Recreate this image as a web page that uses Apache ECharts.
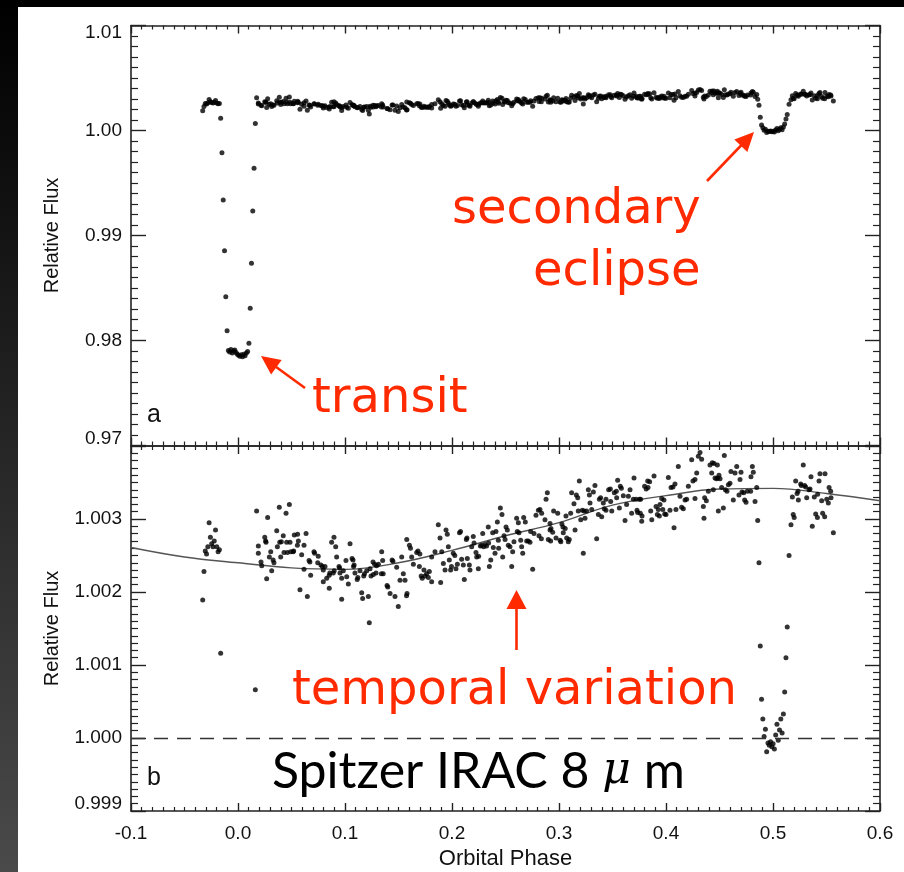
<!DOCTYPE html>
<html><head><meta charset="utf-8">
<script src="https://cdn.jsdelivr.net/npm/echarts@6/dist/echarts.min.js"></script>
<style>html,body{margin:0;padding:0;background:#fff}#c{width:904px;height:872px}</style>
</head><body><div id="c"></div>
<script>
// ---- data: orbital phase, relative flux ----
const preTransit = [[-0.0330,1.00189],[-0.0318,1.00228],[-0.0306,1.00256],[-0.0294,1.00252],[-0.0282,1.00262],[-0.0270,1.00295],[-0.0258,1.00275],[-0.0246,1.00266],[-0.0234,1.00262],[-0.0222,1.00270],[-0.0210,1.00285],[-0.0198,1.00262],[-0.0186,1.00255],[-0.0174,1.00258]];
const transit = [[-0.0162,1.00116],[-0.0150,0.99789],[-0.0138,0.99338],[-0.0126,0.98855],[-0.0114,0.98417],[-0.0102,0.98093],
[-0.0090,0.97905],[-0.0078,0.97890],[-0.0066,0.97915],[-0.0054,0.97880],[-0.0042,0.97900],[-0.0030,0.97910],[-0.0018,0.97885],[-0.0006,0.97870],[0.0006,0.97860],[0.0018,0.97850],[0.0030,0.97865],[0.0042,0.97845],[0.0054,0.97870],[0.0066,0.97855],[0.0078,0.97880],[0.0090,0.97895],
[0.0102,0.97973],[0.0114,0.98307],[0.0126,0.98735],[0.0138,0.99233],[0.0150,0.99640],[0.0162,1.00066]];
const baseline = [[0.0174,1.00311],[0.0190,1.00263],[0.0190,1.00253],[0.0215,1.00241],[0.0222,1.00236],[0.0250,1.00275],[0.0258,1.00270],[0.0262,1.00268],[0.0268,1.00218],[0.0277,1.00302],[0.0293,1.00248],[0.0306,1.00255],[0.0315,1.00229],[0.0328,1.00244],[0.0336,1.00240],[0.0362,1.00284],[0.0368,1.00262],[0.0386,1.00316],[0.0390,1.00268],[0.0399,1.00248],[0.0405,1.00269],[0.0423,1.00277],[0.0430,1.00254],[0.0449,1.00308],[0.0455,1.00268],[0.0461,1.00254],[0.0480,1.00320],[0.0486,1.00268],[0.0492,1.00255],[0.0515,1.00255],[0.0520,1.00256],[0.0526,1.00278],[0.0555,1.00264],[0.0557,1.00279],[0.0564,1.00270],[0.0579,1.00203],[0.0595,1.00251],[0.0617,1.00264],[0.0617,1.00231],[0.0636,1.00280],[0.0648,1.00194],[0.0664,1.00243],[0.0672,1.00241],[0.0679,1.00223],[0.0710,1.00255],[0.0716,1.00253],[0.0745,1.00240],[0.0750,1.00249],[0.0775,1.00237],[0.0788,1.00235],[0.0797,1.00230],[0.0797,1.00214],[0.0813,1.00235],[0.0829,1.00219],[0.0853,1.00205],[0.0853,1.00223],[0.0858,1.00226],[0.0875,1.00268],[0.0890,1.00226],[0.0897,1.00275],[0.0899,1.00229],[0.0913,1.00262],[0.0922,1.00248],[0.0944,1.00235],[0.0950,1.00233],[0.0953,1.00226],[0.0969,1.00219],[0.0969,1.00190],[0.0984,1.00229],[0.1009,1.00243],[0.1016,1.00221],[0.1031,1.00211],[0.1047,1.00266],[0.1066,1.00246],[0.1075,1.00244],[0.1080,1.00235],[0.1085,1.00237],[0.1093,1.00226],[0.1114,1.00217],[0.1120,1.00220],[0.1140,1.00229],[0.1156,1.00199],[0.1165,1.00191],[0.1175,1.00222],[0.1182,1.00225],[0.1203,1.00229],[0.1218,1.00194],[0.1227,1.00158],
[0.1234,1.00232],[0.1243,1.00222],[0.1262,1.00241],[0.1265,1.00224],[0.1277,1.00238],[0.1290,1.00226],[0.1295,1.00236],[0.1312,1.00238],[0.1343,1.00255],[0.1340,1.00225],[0.1352,1.00243],[0.1357,1.00225],[0.1393,1.00209],[0.1400,1.00207],[0.1421,1.00198],[0.1440,1.00244],[0.1448,1.00242],[0.1467,1.00194],[0.1483,1.00234],[0.1498,1.00180],[0.1514,1.00216],[0.1530,1.00248],[0.1545,1.00225],[0.1561,1.00216],[0.1575,1.00195],[0.1580,1.00198],[0.1577,1.00272],[0.1602,1.00264],[0.1612,1.00260],[0.1623,1.00248],[0.1639,1.00238],[0.1670,1.00254],[0.1682,1.00256],[0.1695,1.00235],[0.1700,1.00252],[0.1712,1.00222],[0.1722,1.00219],[0.1738,1.00230],[0.1748,1.00222],[0.1763,1.00225],[0.1779,1.00220],[0.1788,1.00228],[0.1810,1.00214],[0.1810,1.00248],[0.1841,1.00255],[0.1872,1.00292],[0.1888,1.00274],[0.1894,1.00213],[0.1904,1.00255],[0.1919,1.00239],[0.1935,1.00230],[0.1944,1.00285],[0.1956,1.00279],[0.1966,1.00262],[0.1975,1.00244],[0.1987,1.00230],[0.1995,1.00235],[0.2012,1.00253],[0.2026,1.00250],[0.2037,1.00232],[0.2050,1.00238],[0.2070,1.00281],[0.2080,1.00283],[0.2090,1.00245],[0.2106,1.00237],[0.2115,1.00217],[0.2134,1.00272],[0.2140,1.00274],[0.2143,1.00246],[0.2162,1.00237],[0.2168,1.00230],[0.2184,1.00262],[0.2199,1.00276],[0.2206,1.00267],[0.2224,1.00254],[0.2231,1.00248],[0.2246,1.00232],[0.2249,1.00249],[0.2265,1.00263],[0.2277,1.00264],[0.2287,1.00280],[0.2296,1.00262],[0.2308,1.00265],[0.2323,1.00263],[0.2339,1.00289],[0.2342,1.00267],[0.2349,1.00235],[0.2362,1.00244],[0.2380,1.00281],[0.2386,1.00261],[0.2402,1.00253],[0.2411,1.00283],[0.2424,1.00296],[0.2433,1.00271],[0.2436,1.00260],[0.2452,1.00315],[0.2467,1.00306],[0.2474,1.00248],[0.2486,1.00277],[0.2496,1.00272],[0.2505,1.00289],[0.2517,1.00285],[0.2526,1.00264],[0.2542,1.00262],[0.2558,1.00235],[0.2567,1.00255],[0.2579,1.00269],[0.2604,1.00301],[0.2620,1.00295],[0.2610,1.00283],[0.2626,1.00281],[0.2642,1.00271],[0.2651,1.00262],[0.2661,1.00253],[0.2670,1.00302],[0.2685,1.00296],[0.2698,1.00270],[0.2713,1.00270],[0.2729,1.00268],[0.2735,1.00283],[0.2754,1.00231],[0.2766,1.00280],[0.2785,1.00305],[0.2807,1.00312],[0.2822,1.00313],[0.2838,1.00308],[0.2813,1.00277],[0.2835,1.00273],[0.2869,1.00299],[0.2879,1.00327],[0.2891,1.00336],[0.2900,1.00272],[0.2916,1.00294],
[0.2916,1.00285],[0.2925,1.00287],[0.2941,1.00282],[0.2922,1.00270],[0.2950,1.00311],[0.2988,1.00308],[0.2972,1.00274],[0.3010,1.00271],[0.3017,1.00269],[0.3027,1.00293],[0.3037,1.00289],[0.3058,1.00287],[0.3040,1.00281],[0.3072,1.00274],[0.3065,1.00304],[0.3087,1.00269],[0.3096,1.00272],[0.3109,1.00308],[0.3118,1.00336],[0.3140,1.00321],[0.3150,1.00285],[0.3162,1.00333],[0.3175,1.00329],[0.3190,1.00352],[0.3180,1.00311],[0.3203,1.00299],[0.3218,1.00312],[0.3234,1.00311],[0.3258,1.00311],[0.3227,1.00253],[0.3243,1.00301],[0.3274,1.00340],[0.3284,1.00333],[0.3290,1.00322],[0.3306,1.00313],[0.3321,1.00337],[0.3336,1.00346],[0.3352,1.00273],[0.3377,1.00327],[0.3389,1.00329],[0.3368,1.00306],[0.3399,1.00303],[0.3414,1.00322],[0.3439,1.00327],[0.3423,1.00314],[0.3439,1.00312],[0.3464,1.00340],[0.3480,1.00341],[0.3483,1.00324],[0.3493,1.00311],[0.3517,1.00336],[0.3536,1.00338],[0.3539,1.00329],[0.3548,1.00353],[0.3564,1.00315],[0.3573,1.00345],[0.3583,1.00342],[0.3601,1.00332],[0.3617,1.00298],[0.3632,1.00320],[0.3648,1.00331],[0.3664,1.00340],[0.3679,1.00308],[0.3701,1.00356],[0.3695,1.00327],[0.3720,1.00327],[0.3729,1.00312],[0.3735,1.00309],[0.3751,1.00327],[0.3763,1.00327],[0.3760,1.00308],[0.3776,1.00304],[0.3773,1.00297],[0.3800,1.00345],[0.3829,1.00352],[0.3847,1.00351],[0.3815,1.00341],[0.3832,1.00343],[0.3857,1.00311],[0.3867,1.00299],[0.3888,1.00359],[0.3907,1.00317],[0.3919,1.00306],[0.3938,1.00304],[0.3928,1.00313],[0.3944,1.00320],[0.3960,1.00328],[0.3981,1.00326],[0.3970,1.00313],[0.3988,1.00307],[0.4000,1.00306],[0.4022,1.00357],[0.4037,1.00312],[0.4047,1.00343],[0.4065,1.00344],[0.4075,1.00288],[0.4084,1.00348],[0.4093,1.00313],[0.4115,1.00372],[0.4131,1.00331],[0.4146,1.00316],[0.4162,1.00314],[0.4178,1.00326],[0.4193,1.00327],[0.4209,1.00345],[0.4240,1.00381],[0.4252,1.00352],[0.4271,1.00354],[0.4271,1.00328],[0.4287,1.00363],[0.4302,1.00386],[0.4318,1.00391],[0.4333,1.00382],[0.4349,1.00317],[0.4355,1.00301],[0.4361,1.00329],[0.4377,1.00325],[0.4396,1.00338],[0.4411,1.00374],[0.4433,1.00377],[0.4449,1.00376],[0.4427,1.00363],[0.4442,1.00340],[0.4458,1.00356],[0.4473,1.00355],
[0.4480,1.00374],[0.4483,1.00356],[0.4495,1.00360],[0.4505,1.00355],[0.4489,1.00311],[0.4520,1.00343],[0.4536,1.00315],[0.4545,1.00387],[0.4555,1.00340],[0.4570,1.00338],[0.4583,1.00347],[0.4598,1.00349],[0.4607,1.00365],[0.4629,1.00326],[0.4645,1.00363],[0.4661,1.00372],[0.4682,1.00333],[0.4692,1.00354],[0.4701,1.00364],[0.4710,1.00337],[0.4726,1.00336],[0.4735,1.00326],[0.4748,1.00323],[0.4760,1.00338],[0.4791,1.00338],[0.4794,1.00358],[0.4807,1.00372],[0.4816,1.00364],[0.4832,1.00324],[0.4848,1.00343],[0.4857,1.00298]];
const eclipse = [[0.4869,1.00240],[0.4881,1.00126],[0.4893,1.00053],[0.4905,1.00026],[0.4917,1.00002],[0.4929,1.00012],[0.4941,0.99981],[0.4953,0.99993],[0.4965,0.99990],[0.4977,0.99995],[0.4989,0.99988],[0.5001,0.99992],[0.5013,0.99985],[0.5025,1.00004],[0.5037,1.00019],[0.5049,0.99997],[0.5061,1.00011],[0.5073,1.00026],[0.5085,1.00007],[0.5097,1.00033],[0.5109,1.00063],[0.5121,1.00110],[0.5133,1.00152]];
const postEclipse = [[0.5150,1.00250],[0.5168,1.00292],[0.5181,1.00330],[0.5189,1.00306],[0.5198,1.00302],[0.5212,1.00352],[0.5225,1.00335],[0.5234,1.00338],[0.5237,1.00326],[0.5259,1.00348],[0.5265,1.00346],[0.5283,1.00374],[0.5296,1.00346],[0.5305,1.00344],[0.5315,1.00329],[0.5336,1.00340],[0.5346,1.00341],[0.5355,1.00358],[0.5367,1.00290],[0.5386,1.00330],[0.5399,1.00307],[0.5415,1.00302],[0.5417,1.00334],[0.5430,1.00352],[0.5439,1.00362],[0.5455,1.00325],[0.5464,1.00308],[0.5483,1.00303],[0.5486,1.00362],[0.5502,1.00327],[0.5517,1.00322],[0.5524,1.00343],[0.5539,1.00338],[0.5542,1.00329],[0.5564,1.00281]];
// smooth variation curve (read at sample phases)
const curvePhase = [-0.10,-0.05,0.00,0.05,0.10,0.15,0.20,0.25,0.30,0.35,0.40,0.45,0.50,0.55,0.60];
const curveFlux  = [1.00261,1.00248,1.00240,1.00233,1.00231,1.00240,1.00257,1.00277,1.00295,1.00319,1.00332,1.00341,1.00342,1.00335,1.00325];
const phaseTicks = [-0.1,0.0,0.1,0.2,0.3,0.4,0.5,0.6];
const topFluxTicks = [0.97,0.98,0.99,1.00,1.01];
const botFluxTicks = [0.999,1.000,1.001,1.002,1.003,1.004];
const referenceLevel = 1.000;

const allPoints = preTransit.concat(transit, baseline, eclipse, postEclipse);
const curve = curvePhase.map((p,i)=>[p,curveFlux[i]]);

const chart = echarts.init(document.getElementById('c'), null, {renderer:'canvas'});
const AX = '#222';
const LBL = {fontFamily:'Liberation Sans', fontSize:19, color:'#111'};
function xAx(gi, pos, labels){
  return {type:'value', gridIndex:gi, position:pos, min:phaseTicks[0], max:phaseTicks[phaseTicks.length-1], interval:0.1,
    axisLine:{show:true, onZero:false, lineStyle:{color:AX, width:1.6}},
    axisTick:{show:true, inside:true, length:8, lineStyle:{color:AX, width:1.4}},
    minorTick:{show:true, splitNumber:10, length:4, lineStyle:{color:AX, width:1.2}},
    splitLine:{show:false}, minorSplitLine:{show:false},
    axisLabel: labels ? Object.assign({show:true, margin:13, formatter:v=>v.toFixed(1)}, LBL) : {show:false},
    name: labels ? 'Orbital Phase' : '', nameLocation:'middle', nameGap:37,
    nameTextStyle:{fontFamily:'Liberation Sans', fontSize:22, color:'#111'}};
}
function yAx(gi, pos, ticks, dec, labels){
  const mn = ticks[0], mx = ticks[ticks.length-1];
  return {type:'value', gridIndex:gi, position:pos, min:mn, max:mx, interval:Math.round((ticks[1]-ticks[0])*1e6)/1e6,
    axisLine:{show:true, onZero:false, lineStyle:{color:AX, width:1.6}},
    axisTick:{show:true, inside:true, length:15, lineStyle:{color:AX, width:1.4}},
    minorTick:{show:true, splitNumber:10, length:7, lineStyle:{color:AX, width:1.2}},
    splitLine:{show:false}, minorSplitLine:{show:false},
    axisLabel: labels ? Object.assign({show:true, margin:9, showMinLabel:true, showMaxLabel:true,
      formatter:v=>{
        if (gi===1 && Math.abs(v-mx)<1e-9) return '';
        const t = v.toFixed(dec);
        if (Math.abs(v-mn)<1e-9) return '{up|'+t+'}';
        if (Math.abs(v-mx)<1e-9) return '{dn|'+t+'}';
        return t;
      },
      rich:{up:{fontFamily:'Liberation Sans', fontSize:19, color:'#111', padding:[0,0,14,0]},
            dn:{fontFamily:'Liberation Sans', fontSize:19, color:'#111', padding:[14,0,0,0]}}}, LBL) : {show:false},
    name: labels ? 'Relative Flux' : '', nameLocation:'middle', nameRotate:90, nameGap:69,
    nameTextStyle:{fontFamily:'Liberation Sans', fontSize:20, color:'#111'}};
}

const RED = '#ff2a00';
function arrow(tail, tip, len, hw){
  const dx = tip[0]-tail[0], dy = tip[1]-tail[1], L = Math.hypot(dx,dy);
  const ux = dx/L, uy = dy/L, px = -uy, py = ux;
  const bx = tip[0]-ux*len, by = tip[1]-uy*len;
  return [
    {type:'line', shape:{x1:tail[0], y1:tail[1], x2:bx+ux*2, y2:by+uy*2}, style:{stroke:RED, lineWidth:2.6}},
    {type:'polygon', shape:{points:[tip,[bx+px*hw,by+py*hw],[bx-px*hw,by-py*hw]]}, style:{fill:RED}}
  ];
}
const redFont = {fontFamily:'DejaVu Sans', fontSize:48, fill:RED};
const graphics = [
  {type:'rect', z:-10, shape:{x:0,y:0,width:18,height:872}, style:{fill:new echarts.graphic.LinearGradient(0,0,0,1,[{offset:0,color:'#000'},{offset:1,color:'#4a4a4a'}])}},
  {type:'rect', z:-10, shape:{x:0,y:0,width:904,height:7}, style:{fill:'#000'}},
  {type:'text', left:452, top:187, style:Object.assign({text:'secondary'}, redFont)},
  {type:'text', left:533, top:249, style:Object.assign({text:'eclipse'}, redFont)},
  {type:'text', left:312, top:376, style:Object.assign({text:'transit'}, redFont)},
  {type:'text', left:292, top:668, style:Object.assign({text:'temporal variation'}, redFont)},
  {type:'text', left:272, top:747, style:{text:'{a|Spitzer IRAC 8 }{m|\u03bc}{a| m}', rich:{
     a:{fontFamily:'Lato', fontSize:50, fill:'#000', color:'#000'},
     m:{fontFamily:'DejaVu Serif', fontStyle:'italic', fontSize:44, fill:'#000', color:'#000'}}}},
  {type:'text', left:147, top:403, style:{text:'a', fontFamily:'Liberation Sans', fontSize:25, fill:'#111'}},
  {type:'text', left:147, top:766, style:{text:'b', fontFamily:'Liberation Sans', fontSize:25, fill:'#111'}}
].concat(arrow([707,181],[754,132],19,9), arrow([305,388],[261,356],19,9), arrow([516.5,650],[516.5,590],19,10));

chart.setOption({
  animation:false,
  backgroundColor:'#fff',
  grid:[{left:131, top:25.5, width:749, height:420},{left:131, top:446, width:749, height:365}],
  xAxis:[xAx(0,'bottom',false), xAx(0,'top',false), xAx(1,'bottom',true), xAx(1,'top',false)],
  yAxis:[yAx(0,'left',topFluxTicks,2,true), yAx(0,'right',topFluxTicks,2,false), yAx(1,'left',botFluxTicks,3,true), yAx(1,'right',botFluxTicks,3,false)],
  series:[
    {type:'scatter', xAxisIndex:0, yAxisIndex:0, data:allPoints, symbol:'circle', symbolSize:5, itemStyle:{color:'#000'}, clip:true},
    {type:'line', xAxisIndex:2, yAxisIndex:2, data:curve, smooth:0.4, showSymbol:false, lineStyle:{color:'#555', width:1.4}, z:1,
      markLine:{silent:true, symbol:'none', label:{show:false}, lineStyle:{color:'#333', width:1.3, type:[14,9]}, data:[{yAxis:referenceLevel}]}},
    {type:'scatter', xAxisIndex:2, yAxisIndex:2, data:allPoints, symbol:'circle', symbolSize:5, itemStyle:{color:'#000'}, clip:true, z:3}
  ],
  graphic:graphics
});
</script></body></html>
